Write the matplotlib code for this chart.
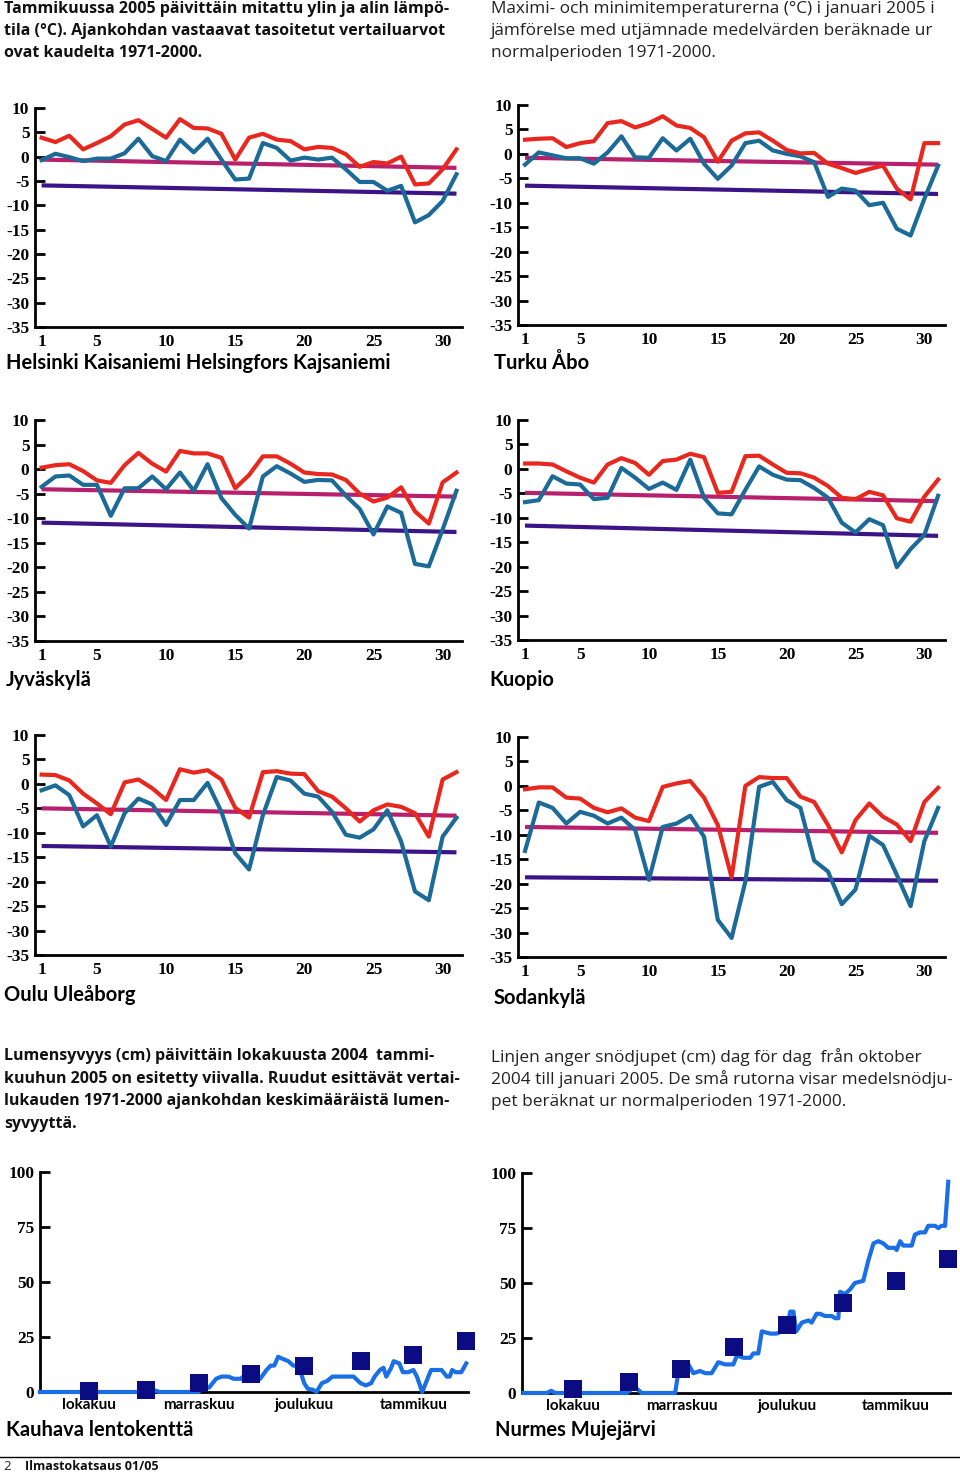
import matplotlib
matplotlib.use("Agg")
import matplotlib.pyplot as plt
from matplotlib.lines import Line2D

# --- temperature data, January 2005, days 1..31 ---
days = list(range(1, 32))

helsinki_max = [3.9, 3.0, 4.3, 1.5, 2.8, 4.2, 6.6, 7.5, 5.7, 3.9, 7.7, 5.9, 5.8, 4.7, -0.6, 3.9,
                4.7, 3.5, 3.2, 1.5, 2.0, 1.8, 0.5, -2.1, -1.1, -1.4, 0.0, -5.7, -5.5, -2.6, 1.5]
helsinki_min = [-0.7, 0.6, -0.1, -0.9, -0.4, -0.4, 0.7, 3.7, 0.1, -0.9, 3.5, 0.9, 3.7, -0.6, -4.7, -4.5,
                2.8, 1.8, -0.8, -0.2, -0.6, -0.2, -2.6, -5.2, -5.2, -7.0, -6.0, -13.5, -12.0, -9.1, -3.6]
helsinki_norm_max = [-0.6, -2.3]
helsinki_norm_min = [-5.9, -7.6]

turku_max = [2.9, 3.1, 3.2, 1.4, 2.2, 2.6, 6.3, 6.7, 5.4, 6.3, 7.7, 5.8, 5.3, 3.4, -1.6, 2.7,
             4.2, 4.4, 2.7, 0.8, 0.1, 0.2, -2.0, -2.9, -3.9, -3.1, -2.4, -7.1, -9.3, 2.2, 2.2]
turku_min = [-2.2, 0.3, -0.3, -0.9, -0.9, -2.0, 0.3, 3.6, -0.7, -0.8, 3.2, 0.7, 3.1, -2.0, -5.1, -2.4,
             2.2, 2.7, 0.7, 0.0, -0.5, -1.7, -8.8, -7.1, -7.5, -10.5, -10.0, -15.3, -16.7, -9.2, -2.4]
turku_norm_max = [-0.8, -2.2]
turku_norm_min = [-6.5, -8.2]

jyvaskyla_max = [0.3, 0.8, 1.0, -0.4, -2.3, -2.8, 0.8, 3.3, 1.1, -0.5, 3.7, 3.2, 3.2, 2.3, -3.9, -1.2,
                 2.6, 2.6, 1.1, -0.7, -1.0, -1.1, -2.2, -5.0, -6.6, -5.8, -3.7, -8.6, -11.1, -2.7, -0.7]
jyvaskyla_min = [-3.6, -1.5, -1.3, -3.2, -3.2, -9.5, -3.9, -3.9, -1.5, -4.1, -0.7, -4.4, 1.0, -5.9, -9.3, -12.1,
                 -1.5, 0.6, -0.9, -2.6, -2.2, -2.3, -5.4, -8.1, -13.3, -7.6, -8.9, -19.3, -19.8, -12.3, -4.4]
jyvaskyla_norm_max = [-4.1, -5.6]
jyvaskyla_norm_min = [-10.9, -12.8]

kuopio_max = [1.1, 1.1, 0.9, -0.5, -1.8, -2.8, 0.9, 2.2, 1.2, -1.2, 1.6, 1.9, 3.1, 2.4, -4.9, -4.7,
              2.6, 2.7, 0.9, -0.8, -0.9, -1.8, -3.5, -5.9, -6.2, -4.7, -5.4, -10.1, -10.8, -5.7, -2.2]
kuopio_min = [-6.8, -6.4, -1.5, -3.0, -3.2, -6.2, -5.9, 0.2, -1.8, -4.1, -2.8, -4.3, 1.9, -5.9, -9.1, -9.3,
              -4.3, 0.5, -1.2, -2.2, -2.3, -3.9, -5.9, -11.0, -13.0, -10.3, -11.5, -20.1, -16.4, -13.5, -5.5]
kuopio_norm_max = [-4.9, -6.6]
kuopio_norm_min = [-11.6, -13.7]

oulu_max = [1.9, 1.8, 0.7, -2.0, -4.0, -6.2, 0.3, 0.9, -0.9, -3.3, 3.0, 2.3, 2.8, 0.9, -4.9, -6.9,
            2.4, 2.6, 2.1, 2.0, -1.5, -2.6, -5.0, -7.7, -5.4, -4.2, -4.7, -6.0, -10.8, 0.9, 2.4]
oulu_min = [-1.3, -0.3, -2.3, -8.7, -6.4, -12.8, -6.0, -3.0, -4.2, -8.4, -3.3, -3.3, 0.2, -5.7, -14.2, -17.5,
            -6.4, 1.4, 0.7, -2.0, -2.6, -5.7, -10.4, -11.0, -9.3, -5.4, -11.8, -22.0, -23.8, -10.8, -6.9]
oulu_norm_max = [-5.0, -6.5]
oulu_norm_min = [-12.7, -14.0]

sodankyla_max = [-0.7, -0.3, -0.3, -2.4, -2.6, -4.5, -5.4, -4.6, -6.5, -7.2, -0.2, 0.5, 1.0, -2.4, -8.0, -18.7,
                 0.0, 1.8, 1.6, 1.6, -2.2, -3.3, -8.0, -13.6, -7.0, -3.6, -6.3, -7.9, -11.3, -3.3, -0.4]
sodankyla_min = [-13.3, -3.4, -4.5, -7.7, -5.3, -6.1, -7.7, -6.5, -9.0, -19.2, -8.4, -7.7, -6.1, -10.4, -27.4, -31.1,
                 -19.6, -0.2, 0.8, -2.9, -4.5, -15.3, -17.5, -24.2, -21.2, -10.2, -12.1, -18.2, -24.6, -11.3, -4.5]
sodankyla_norm_max = [-8.4, -9.6]
sodankyla_norm_min = [-18.7, -19.4]

temp_ticks = [10, 5, 0, -5, -10, -15, -20, -25, -30, -35]
temp_tick_labels = ["10", "5", "0", "-5", "-10", "-15", "-20", "-25", "-30", "-35"]
day_ticks = [1, 5, 10, 15, 20, 25, 30]

# --- snow depth, Oct 2004 - Jan 2005 (day 0 = 1 Oct) ---
norm_days = [15, 31, 46, 61, 76, 92, 107, 122]
month_pos = [15, 46, 76, 107]
month_names = ["lokakuu", "marraskuu", "joulukuu", "tammikuu"]
snow_ticks = [0, 25, 50, 75, 100]

kauhava_day = [1, 31, 33, 35, 46, 47, 49, 51, 52.5, 54.5, 56, 58, 60, 61.5, 63.5, 65.3, 66.5, 67.5,
               68.6, 70, 71.5, 72.9, 74.3, 75, 76, 77, 78.5, 79.5, 81, 82.5, 84, 90, 92, 93.5, 95, 96,
               97.5, 98.5, 99.3, 100.7, 101.4, 103, 104, 105.5, 107, 108, 109.5, 110.5, 112, 115, 116.5,
               117.3, 118, 119, 120.6, 122]
kauhava_snow = [0, 0, 1, 0, 0, 2, 2, 6, 7, 7, 6, 6, 9, 9, 6, 10, 12, 12,
                16, 15, 14, 12, 12, 9, 4, 1.5, 1, 0, 4, 5, 7, 7, 4, 3, 4, 7,
                10, 11, 7, 11, 14, 13, 9, 9, 10, 7, 0, 4, 10, 10, 7,
                7, 10, 9, 9, 13]
kauhava_norm = [0.5, 1, 4, 8, 12, 14, 17, 23]

nurmes_day = [1, 7.7, 8.9, 10, 30.5, 31.9, 33.3, 34.7, 44.2, 45.2, 46.6, 48, 49.4, 51.3, 52.8, 54.6,
              56.5, 58.4, 60.8, 61.8, 63.7, 65.6, 66.5, 67.9, 68.9, 71.3, 73.1, 74.6, 76, 77, 77.9,
              78.7, 80.3, 82.2, 83.1, 84.5, 85.5, 86.9, 88.8, 89.8, 90.7, 91.2, 92.6, 94, 95.4, 97.8,
              99.2, 100.7, 102.1, 103.5, 104.9, 106.8, 107.3, 108.3, 109.2, 111.6, 112.5, 113.9,
              115.4, 116.3, 118.2, 119.2, 120.1, 121.1, 122]
nurmes_snow = [0, 0, 1, 0, 0, 2, 2, 0, 0, 10, 12, 13, 9, 10, 9, 9,
               14, 13, 13, 17, 16, 16, 18, 18, 28, 27, 27, 28, 29, 37, 37,
               28, 32, 33, 32, 36, 36, 35, 35, 34, 34, 46, 45, 47, 50, 51,
               60, 68, 69, 68, 66, 66, 65, 69, 67, 67, 72, 73,
               73, 76, 76, 75, 76, 76, 96]
nurmes_norm = [2, 5, 11, 21, 31, 41, 51, 61]

RED = "#e8281e"
TEAL = "#1c6a98"
MAGENTA = "#b8206e"
INDIGO = "#3c1488"
SNOW = "#1a6ee6"
NAVY = "#0c0c82"

W, H = 960, 1474
fig = plt.figure(figsize=(W / 100, H / 100), dpi=100)

tick_font = dict(family="Liberation Serif", weight="bold", size=12.5)
title_font = dict(family="Lato", weight="bold", size=14.5)


def add_ax(left, top, right, bottom):
    return fig.add_axes([left / W, 1 - bottom / H, (right - left) / W, (bottom - top) / H])


def ftext(x, y, s, **kw):
    fig.text(x / W, 1 - y / H, s, va="center", ha="left", **kw)


def style_axes(ax):
    for side in ("top", "right"):
        ax.spines[side].set_visible(False)
    for side in ("left", "bottom"):
        ax.spines[side].set_linewidth(2)
        ax.spines[side].set_color("black")
    ax.set_facecolor("none")


def temp_panel(box, xlim, tmax, tmin, nmax, nmin):
    ax = add_ax(*box)
    style_axes(ax)
    ax.plot([1, 31], nmax, color=MAGENTA, lw=3, solid_capstyle="butt", zorder=2)
    ax.plot([1, 31], nmin, color=INDIGO, lw=3, solid_capstyle="butt", zorder=2)
    ax.plot(days, tmin, color=TEAL, lw=3, zorder=3)
    ax.plot(days, tmax, color=RED, lw=3, zorder=4)
    ax.set_xlim(*xlim)
    ax.set_ylim(-35, 10)
    ax.set_yticks(temp_ticks)
    ax.set_yticklabels(temp_tick_labels, fontdict=tick_font)
    ax.set_xticks(day_ticks)
    ax.set_xticklabels([str(d) for d in day_ticks], fontdict=tick_font)
    ax.tick_params(axis="y", direction="in", length=7, width=2, pad=4)
    ax.tick_params(axis="x", length=0, pad=5)
    return ax


def snow_panel(box, xlim, sday, snow, norm):
    ax = add_ax(*box)
    style_axes(ax)
    ax.plot(sday, snow, color=SNOW, lw=3, zorder=3, clip_on=False)
    ax.scatter(norm_days, norm, marker="s", s=160, color=NAVY, zorder=4, clip_on=False, linewidths=0)
    ax.set_xlim(*xlim)
    ax.set_ylim(0, 100)
    ax.set_yticks(snow_ticks)
    ax.set_yticklabels([str(v) for v in snow_ticks], fontdict=tick_font)
    ax.set_xticks(month_pos)
    ax.set_xticklabels(month_names, family="Lato", weight="bold", size=11)
    ax.tick_params(axis="y", direction="in", length=7, width=2, pad=4)
    ax.tick_params(axis="x", length=0, pad=4)
    return ax


# temperature panels
temp_panel((35, 108, 462, 327), (0.52, 31.4), helsinki_max, helsinki_min, helsinki_norm_max, helsinki_norm_min)
temp_panel((518, 105, 945, 325), (0.49, 31.5), turku_max, turku_min, turku_norm_max, turku_norm_min)
temp_panel((35, 420, 462, 641), (0.52, 31.4), jyvaskyla_max, jyvaskyla_min, jyvaskyla_norm_max, jyvaskyla_norm_min)
temp_panel((518, 420, 945, 640), (0.49, 31.5), kuopio_max, kuopio_min, kuopio_norm_max, kuopio_norm_min)
temp_panel((35, 735, 462, 955), (0.52, 31.4), oulu_max, oulu_min, oulu_norm_max, oulu_norm_min)
temp_panel((518, 737, 945, 957), (0.49, 31.5), sodankyla_max, sodankyla_min, sodankyla_norm_max, sodankyla_norm_min)

# snow panels
snow_panel((40, 1172, 468, 1392), (1.0, 122.5), kauhava_day, kauhava_snow, kauhava_norm)
snow_panel((522, 1173, 950, 1393), (0.6, 122.5), nurmes_day, nurmes_snow, nurmes_norm)

# station names
ftext(6, 363, "Helsinki Kaisaniemi Helsingfors Kajsaniemi", **title_font)
ftext(494, 363, "Turku Åbo", **title_font)
ftext(6, 680, "Jyväskylä", **title_font)
ftext(489, 680, "Kuopio", **title_font)
ftext(4, 995, "Oulu Uleåborg", **title_font)
ftext(494, 998, "Sodankylä", **title_font)
ftext(6, 1430, "Kauhava lentokenttä", **title_font)
ftext(495, 1430, "Nurmes Mujejärvi", **title_font)

# captions, one line at a time
cap_bold = dict(family="Open Sans", weight="bold", size=11.5, color="#111111")
cap_norm = dict(family="Open Sans", weight="normal", size=12.4, color="#222222")

top_left = ["Tammikuussa 2005 päivittäin mitattu ylin ja alin lämpö-",
            "tila (°C). Ajankohdan vastaavat tasoitetut vertailuarvot",
            "ovat kaudelta 1971-2000."]
top_right = ["Maximi- och minimitemperaturerna (°C) i januari 2005 i",
             "jämförelse med utjämnade medelvärden beräknade ur",
             "normalperioden 1971-2000."]
mid_left = ["Lumensyvyys (cm) päivittäin lokakuusta 2004  tammi-",
            "kuuhun 2005 on esitetty viivalla. Ruudut esittävät vertai-",
            "lukauden 1971-2000 ajankohdan keskimääräistä lumen-",
            "syvyyttä."]
mid_right = ["Linjen anger snödjupet (cm) dag för dag  från oktober",
             "2004 till januari 2005. De små rutorna visar medelsnödju-",
             "pet beräknat ur normalperioden 1971-2000."]

for i, line in enumerate(top_left):
    ftext(4, 9 + 22 * i, line, **cap_bold)
for i, line in enumerate(top_right):
    ftext(491, 9 + 22 * i, line, **cap_norm)
for i, line in enumerate(mid_left):
    ftext(4, 1056 + 22.7 * i, line, **cap_bold)
for i, line in enumerate(mid_right):
    ftext(491, 1057 + 22.5 * i, line, **cap_norm)

# footer
fig.add_artist(Line2D([0, 1], [1 - 1457 / H, 1 - 1457 / H], transform=fig.transFigure, color="black", lw=1))
ftext(3, 1467, "2", family="Open Sans", size=9.5, color="#222222")
ftext(25, 1467, "Ilmastokatsaus 01/05", family="Open Sans", weight="bold", size=9, color="#111111")

fig.savefig("out.png", dpi=100)
